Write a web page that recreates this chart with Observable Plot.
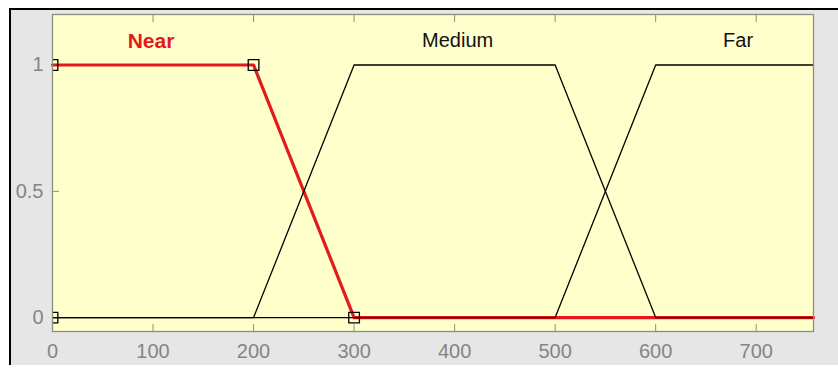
<!DOCTYPE html>
<html>
<head>
<meta charset="utf-8">
<script src="https://cdn.jsdelivr.net/npm/d3@7"></script>
<script src="https://cdn.jsdelivr.net/npm/@observablehq/plot@0.6"></script>
<style>
  html, body { margin: 0; padding: 0; background: #ffffff; }
  #wrap { position: relative; width: 838px; height: 368px; overflow: hidden; }
  #panel { position: absolute; left: 9px; top: 8px; width: 829px; height: 357px;
           background: #e6e6e6; border-left: 2px solid #000; border-top: 2px solid #000; box-sizing: border-box; }
  #chart { position: absolute; left: 0; top: 0; }
</style>
</head>
<body>
<div id="wrap"><div id="panel"></div><div id="chart"></div></div>
<script>
// Membership functions (x = distance, y = membership degree)
const nearX = [0, 200, 300, 757];
const nearY = [1, 1, 0, 0];
const mediumX = [0, 200, 300, 500, 600, 757];
const mediumY = [0, 0, 1, 1, 0, 0];
const farX = [0, 500, 600, 757];
const farY = [0, 0, 1, 1];
// Vertices of the selected function (Near) shown as square handles
const handleX = [0, 0, 200, 300];
const handleY = [0, 1, 1, 0];
// Function names
const mfNames = ["Near", "Medium", "Far"];
const mfLabelX = [98, 403, 682];
const mfLabelY = [1.095, 1.095, 1.095];
// Tick labels
const xTicks = [0, 100, 200, 300, 400, 500, 600, 700];
const yTicks = [0, 0.5, 1];

const toPts = (xs, ys) => xs.map((x, i) => ({x, y: ys[i]}));
const near = toPts(nearX, nearY);
const medium = toPts(mediumX, mediumY);
const far = toPts(farX, farY);
const handles = toPts(handleX, handleY);
const labels = mfNames.map((name, i) => ({name, x: mfLabelX[i], y: mfLabelY[i]}));

const red = "#e3191b";
const tickCol = "#8e8e7e";
const textCol = "#858585";

const chart = Plot.plot({
  width: 838,
  height: 368,
  marginLeft: 52,
  marginRight: 25,
  marginTop: 14,
  marginBottom: 37,
  x: {domain: [0, 757]},
  y: {domain: [-0.055, 1.2]},
  style: {background: "transparent", fontFamily: "'Liberation Sans', Arial, sans-serif", fontSize: "20px", overflow: "visible"},
  marks: [
    Plot.frame({fill: "#ffffcc"}),
    Plot.axisX(xTicks, {anchor: "bottom", tickSize: -7, tickFormat: () => "", stroke: tickCol, label: null}),
    Plot.axisX(xTicks, {anchor: "top", tickSize: -7, tickFormat: () => "", stroke: tickCol, label: null}),
    Plot.axisY(yTicks, {anchor: "left", tickSize: -7, tickFormat: () => "", stroke: tickCol, label: null}),
    Plot.axisX(xTicks, {anchor: "bottom", tickSize: 0, tickPadding: 12, fill: textCol, label: null, fontSize: 20, tickFormat: d => String(d)}),
    Plot.axisY(yTicks, {anchor: "left", tickSize: 0, tickPadding: 9, fill: textCol, label: null, fontSize: 20, tickFormat: d => String(d)}),
    Plot.line(near, {x: "x", y: "y", stroke: red, strokeWidth: 3.2}),
    Plot.line(medium, {x: "x", y: "y", stroke: "#000", strokeWidth: 1.3}),
    Plot.line(far, {x: "x", y: "y", stroke: "#000", strokeWidth: 1.3}),
    Plot.dot(handles, {x: "x", y: "y", symbol: "square", r: 6, stroke: "#000", strokeWidth: 1.3, fill: "none", clip: true}),
    Plot.frame({stroke: tickCol, strokeWidth: 1.3}),
    Plot.text(labels.filter(d => d.name === "Near"), {x: "x", y: "y", text: "name", fontSize: 21, fill: red, fontWeight: "bold"}),
    Plot.text(labels.filter(d => d.name !== "Near"), {x: "x", y: "y", text: "name", fontSize: 20, fill: "#111"})
  ]
});
document.getElementById("chart").appendChild(chart);
</script>
</body>
</html>
